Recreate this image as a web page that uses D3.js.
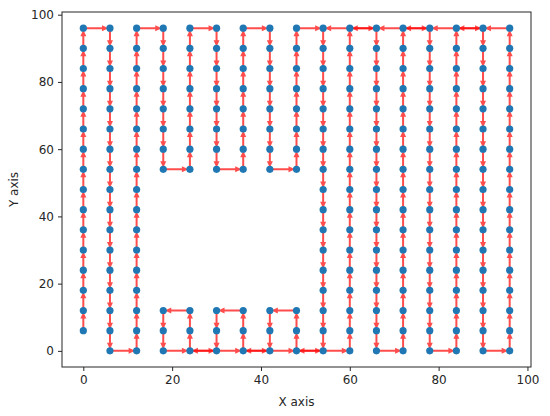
<!DOCTYPE html>
<html>
<head>
<meta charset="utf-8">
<script src="https://cdn.jsdelivr.net/npm/d3@7"></script>
<style>
  body { margin: 0; background: #fff; }
  svg text { font-family: "DejaVu Sans", sans-serif; font-size: 12px; fill: #262626; }
</style>
</head>
<body>
<svg id="chart"></svg>
<script>
const width = 550;
const height = 416;
const margin = { top: 12, right: 19, bottom: 49, left: 62 };

// grid of cells the robot can visit
const gridX = [0, 6, 12, 18, 24, 30, 36, 42, 48, 54, 60, 66, 72, 78, 84, 90, 96];
const gridY = [0, 6, 12, 18, 24, 30, 36, 42, 48, 54, 60, 66, 72, 78, 84, 90, 96];
// blocked area (inclusive) and the unused corner cell
const obstacle = { x: [18, 48], y: [18, 48] };
const skipped = [[0, 0]];

// corners of the coverage route, walked one cell at a time
const route = [
  [0, 6], [0, 96], [6, 96], [6, 0], [12, 0], [12, 96], [18, 96], [18, 54],
  [24, 54], [24, 96], [30, 96], [30, 54], [36, 54], [36, 96], [42, 96], [42, 54],
  [48, 54], [48, 96], [54, 96], [54, 0], [48, 0], [48, 12], [42, 12], [42, 0],
  [36, 0], [36, 12], [30, 12], [30, 0], [24, 0], [24, 12], [18, 12], [18, 0],
  [60, 0], [60, 96], [66, 96], [66, 0], [72, 0], [72, 96], [78, 96], [78, 0],
  [84, 0], [84, 96], [90, 96], [90, 0], [96, 0], [96, 96], [54, 96]
];

const xTicks = [0, 20, 40, 60, 80, 100];
const yTicks = [0, 20, 40, 60, 80, 100];

const svg = d3.select('#chart')
  .attr('width', width)
  .attr('height', height);

const x = d3.scaleLinear().domain([-4.8, 100.8]).range([margin.left, width - margin.right]);
const y = d3.scaleLinear().domain([-4.8, 100.8]).range([height - margin.bottom, margin.top]);

// cells
const cells = [];
gridX.forEach(cx => gridY.forEach(cy => {
  const blocked = cx >= obstacle.x[0] && cx <= obstacle.x[1] && cy >= obstacle.y[0] && cy <= obstacle.y[1];
  const skip = skipped.some(s => s[0] === cx && s[1] === cy);
  if (!blocked && !skip) cells.push([cx, cy]);
}));

// split route into single-cell moves
const step = gridX[1] - gridX[0];
const moves = [];
for (let i = 1; i < route.length; i++) {
  const [ax, ay] = route[i - 1];
  const [bx, by] = route[i];
  const n = Math.max(Math.abs(bx - ax), Math.abs(by - ay)) / step;
  for (let k = 0; k < n; k++) {
    moves.push({
      x0: ax + (bx - ax) * k / n, y0: ay + (by - ay) * k / n,
      x1: ax + (bx - ax) * (k + 1) / n, y1: ay + (by - ay) * (k + 1) / n
    });
  }
}

const shaft = 1, headW = 3, headL = 6.5, tipGap = 1.5;
function arrowPath(m) {
  const px0 = x(m.x0), py0 = y(m.y0), px1 = x(m.x1), py1 = y(m.y1);
  const len = Math.hypot(px1 - px0, py1 - py0);
  const ux = (px1 - px0) / len, uy = (py1 - py0) / len;
  const nx = -uy, ny = ux;
  const tx = px1 - ux * tipGap, ty = py1 - uy * tipGap;
  const bx = tx - ux * headL, by = ty - uy * headL;
  const pts = [
    [px0 + nx * shaft, py0 + ny * shaft],
    [bx + nx * shaft, by + ny * shaft],
    [bx + nx * headW, by + ny * headW],
    [tx, ty],
    [bx - nx * headW, by - ny * headW],
    [bx - nx * shaft, by - ny * shaft],
    [px0 - nx * shaft, py0 - ny * shaft]
  ];
  return 'M' + pts.map(p => p.join(',')).join('L') + 'Z';
}

svg.append('g')
  .attr('class', 'arrows')
  .selectAll('path')
  .data(moves)
  .join('path')
  .attr('d', arrowPath)
  .attr('fill', 'red')
  .attr('fill-opacity', 0.7);

svg.append('g')
  .attr('class', 'cells')
  .selectAll('circle')
  .data(cells)
  .join('circle')
  .attr('cx', d => x(d[0]))
  .attr('cy', d => y(d[1]))
  .attr('r', 3.6)
  .attr('fill', '#1f77b4');

// axes
const xAxis = svg.append('g')
  .attr('transform', `translate(0,${height - margin.bottom})`)
  .call(d3.axisBottom(x).tickValues(xTicks).tickSize(4).tickPadding(4));
const yAxis = svg.append('g')
  .attr('transform', `translate(${margin.left},0)`)
  .call(d3.axisLeft(y).tickValues(yTicks).tickSize(4).tickPadding(4));
[xAxis, yAxis].forEach(a => {
  a.select('.domain').remove();
  a.selectAll('text').attr('font-size', 12).attr('font-family', '"DejaVu Sans", sans-serif').attr('fill', '#262626');
  a.selectAll('line').attr('stroke', '#262626');
});

svg.append('rect')
  .attr('x', margin.left)
  .attr('y', margin.top)
  .attr('width', width - margin.left - margin.right)
  .attr('height', height - margin.top - margin.bottom)
  .attr('fill', 'none')
  .attr('stroke', '#262626')
  .attr('stroke-width', 1);

svg.append('text')
  .attr('x', (margin.left + width - margin.right) / 2)
  .attr('y', 406)
  .attr('text-anchor', 'middle')
  .text('X axis');

svg.append('text')
  .attr('transform', `translate(18,${(margin.top + height - margin.bottom) / 2}) rotate(-90)`)
  .attr('text-anchor', 'middle')
  .text('Y axis');
</script>
</body>
</html>
